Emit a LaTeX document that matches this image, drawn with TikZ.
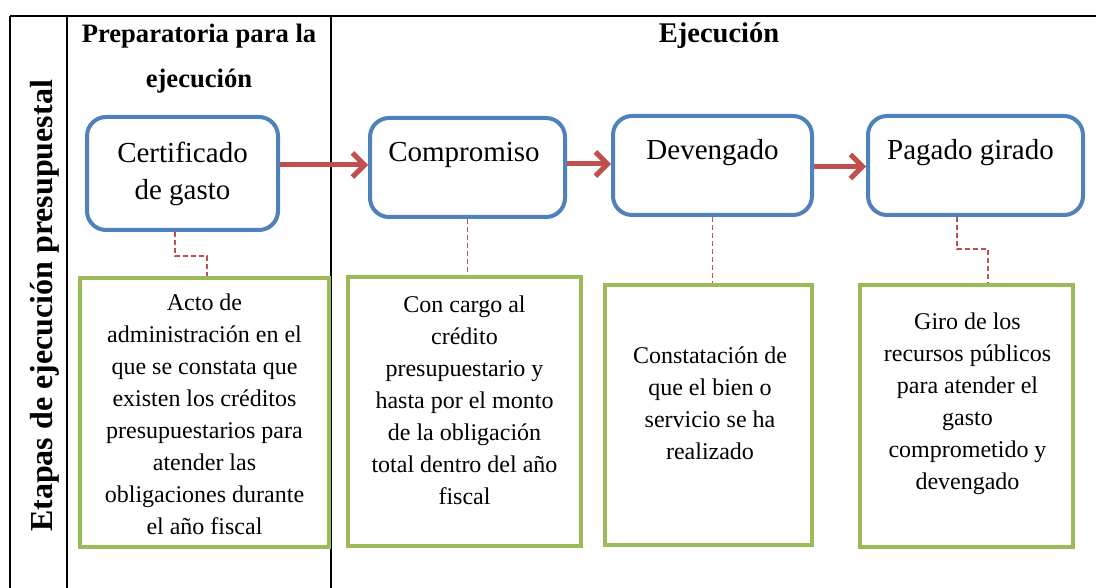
\documentclass[tikz,border=0pt]{standalone}
\usepackage{fontspec}
\setmainfont{Liberation Serif}
\usetikzlibrary{arrows.meta,calc}
\definecolor{boxblue}{HTML}{4F81BD}
\definecolor{boxgreen}{HTML}{9BBB59}
\definecolor{arrred}{HTML}{C0504D}
\tikzset{
  bluebox/.style={draw=boxblue, line width=4pt, rounded corners=19pt, fill=white},
  greenbox/.style={draw=boxgreen, line width=4.5pt, fill=white},
  stagetext/.style={font=\fontsize{29}{37}\selectfont, align=center, inner sep=0pt},
  desctext/.style={font=\fontsize{24}{32}\selectfont, align=center, inner sep=0pt},
  headtext/.style={font=\bfseries\fontsize{26.6}{45}\selectfont, align=center, inner sep=0pt},
  tableline/.style={draw=black, line width=2pt},
  flowarrow/.style={draw=arrred, line width=5pt, -{Straight Barb[length=12pt,width=24pt]}},
  linkline/.style={draw=arrred, line width=1.3pt, dash pattern=on 5pt off 3pt},
}
\begin{document}
\begin{tikzpicture}[x=1pt,y=-1pt]
\useasboundingbox (0,0) rectangle (1096,588);
% table frame
\coordinate (tl) at (10,16);
\coordinate (tr) at (1096,16);
\coordinate (c1t) at (67,16);
\coordinate (c2t) at (331,16);
\coordinate (c0b) at (10,588);
\coordinate (c1b) at (67,588);
\coordinate (c2b) at (331,588);
\draw[tableline] (tl) -- (tr);
\draw[tableline] (tl) -- (c0b);
\draw[tableline] (c1t) -- (c1b);
\draw[tableline] (c2t) -- (c2b);
% headings
\node[headtext] (hprep) at (199,58.5) {Preparatoria para la\\ejecución};
\node[headtext, font=\bfseries\fontsize{28.5}{30}\selectfont] (hejec) at (719,36) {Ejecución};
\node[font=\bfseries\fontsize{32}{32}\selectfont, rotate=90, inner sep=0pt] (hside) at (44.5,306) {Etapas de ejecución presupuestal};
% stage boxes
\node[bluebox, minimum width=191pt, minimum height=113pt] (b1) at (182.5,173.5) {};
\node[bluebox, minimum width=195pt, minimum height=99pt] (b2) at (467.5,167.5) {};
\node[bluebox, minimum width=199pt, minimum height=99pt] (b3) at (712.5,165.5) {};
\node[bluebox, minimum width=215pt, minimum height=99pt] (b4) at (975.5,165.5) {};
\node[stagetext] (s1) at (182.5,173.5) {Certificado\\de gasto};
\node[stagetext] (s2) at (464,155) {Compromiso};
\node[stagetext] (s3) at (712.5,153) {Devengado};
\node[stagetext] (s4) at (970.5,153) {Pagado girado};
% description boxes
\node[greenbox, minimum width=249pt, minimum height=269pt] (g1) at (204.5,412.5) {};
\node[greenbox, minimum width=233pt, minimum height=269pt] (g2) at (464.5,411.5) {};
\node[greenbox, minimum width=207pt, minimum height=260pt] (g3) at (708.5,415) {};
\node[greenbox, minimum width=213pt, minimum height=262pt] (g4) at (966.5,416) {};
\node[desctext] (d1) at (204.5,414.5) {Acto de\\administración en el\\que se constata que\\existen los créditos\\presupuestarios para\\atender las\\obligaciones durante\\el año fiscal};
\node[desctext] (d2) at (464.5,400) {Con cargo al\\crédito\\presupuestario y\\hasta por el monto\\de la obligación\\total dentro del año\\fiscal};
\node[desctext] (d3) at (710,403.5) {Constatación de\\que el bien o\\servicio se ha\\realizado};
\node[desctext] (d4) at (967.5,403.5) {Giro de los\\recursos públicos\\para atender el\\gasto\\comprometido y\\devengado};
% arrows
\draw[flowarrow] ([yshift=8.5pt]b1.east) -- ([yshift=2.5pt]b2.west);
\draw[flowarrow] ([yshift=3.5pt]b2.east) -- ([yshift=1.5pt]b3.west);
\draw[flowarrow] ([yshift=-1pt]b3.east) -- ([yshift=-1pt]b4.west);
% dashed links
\draw[linkline] ([xshift=-7.5pt]b1.south) -- ++(0,24) -| ([xshift=2.5pt]g1.north);
\draw[linkline] (b2.south) -- (b2.south |- g2.north);
\draw[linkline] (b3.south) -- (b3.south |- g3.north);
\draw[linkline] ([xshift=-18.5pt]b4.south) -- ++(0,32) -| ([xshift=21.5pt]g4.north);
\end{tikzpicture}
\end{document}
